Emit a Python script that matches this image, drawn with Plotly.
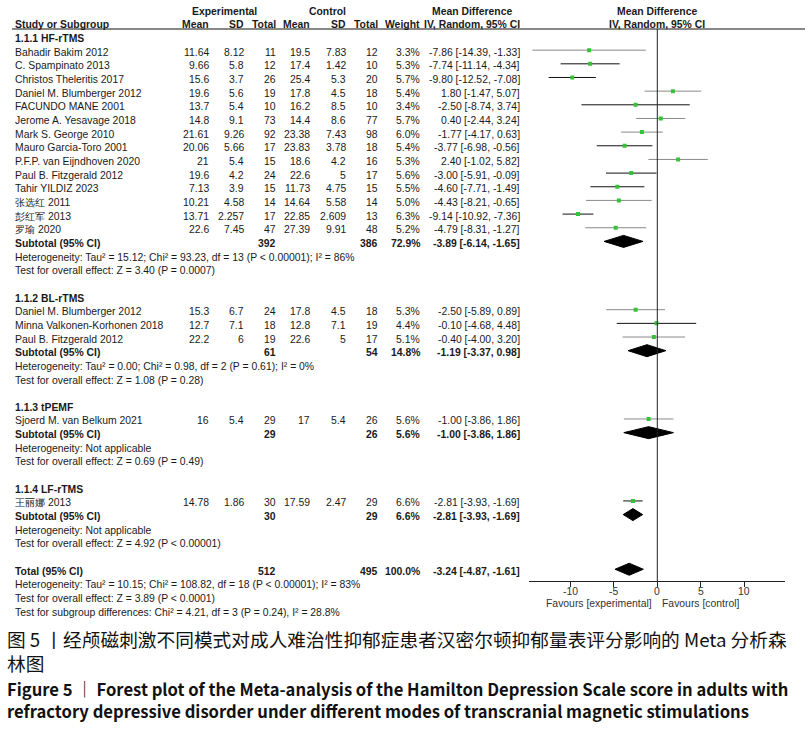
import plotly.graph_objects as go

# ------------------------------------------------------------------ data
group_titles = ["1.1.1 HF-rTMS", "1.1.2 BL-rTMS", "1.1.3 tPEMF", "1.1.4 LF-rTMS"]

study_names = [
    "Bahadir Bakim 2012", "C. Spampinato 2013", "Christos Theleritis 2017",
    "Daniel M. Blumberger 2012", "FACUNDO MANE 2001", "Jerome A. Yesavage 2018",
    "Mark S. George 2010", "Mauro Garcia-Toro 2001", "P.F.P. van Eijndhoven 2020",
    "Paul B. Fitzgerald 2012", "Tahir YILDIZ 2023", "张选红 2011", "彭红军 2013",
    "罗瑜 2020",
    "Daniel M. Blumberger 2012", "Minna Valkonen-Korhonen 2018", "Paul B. Fitzgerald 2012",
    "Sjoerd M. van Belkum 2021",
    "王丽娜 2013",
]
study_group = [0] * 14 + [1] * 3 + [2] + [3]
exp_mean = [11.64, 9.66, 15.6, 19.6, 13.7, 14.8, 21.61, 20.06, 21, 19.6, 7.13, 10.21, 13.71, 22.6,
            15.3, 12.7, 22.2, 16, 14.78]
exp_sd = [8.12, 5.8, 3.7, 5.6, 5.4, 9.1, 9.26, 5.66, 5.4, 4.2, 3.9, 4.58, 2.257, 7.45,
          6.7, 7.1, 6, 5.4, 1.86]
exp_n = [11, 12, 26, 19, 10, 73, 92, 17, 15, 24, 15, 14, 17, 47, 24, 18, 19, 29, 30]
ctl_mean = [19.5, 17.4, 25.4, 17.8, 16.2, 14.4, 23.38, 23.83, 18.6, 22.6, 11.73, 14.64, 22.85, 27.39,
            17.8, 12.8, 22.6, 17, 17.59]
ctl_sd = [7.83, 1.42, 5.3, 4.5, 8.5, 8.6, 7.43, 3.78, 4.2, 5, 4.75, 5.58, 2.609, 9.91,
          4.5, 7.1, 5, 5.4, 2.47]
ctl_n = [12, 10, 20, 18, 10, 77, 98, 18, 16, 17, 15, 14, 13, 48, 18, 19, 17, 26, 29]
weight = [3.3, 5.3, 5.7, 5.4, 3.4, 5.7, 6.0, 5.4, 5.3, 5.6, 5.5, 5.0, 6.3, 5.2, 5.3, 4.4, 5.1, 5.6, 6.6]
md = [-7.86, -7.74, -9.80, 1.80, -2.50, 0.40, -1.77, -3.77, 2.40, -3.00, -4.60, -4.43, -9.14, -4.79,
      -2.50, -0.10, -0.40, -1.00, -2.81]
md_lo = [-14.39, -11.14, -12.52, -1.47, -8.74, -2.44, -4.17, -6.98, -1.02, -5.91, -7.71, -8.21, -10.92,
         -8.31, -5.89, -4.68, -4.00, -3.86, -3.93]
md_hi = [-1.33, -4.34, -7.08, 5.07, 3.74, 3.24, 0.63, -0.56, 5.82, -0.09, -1.49, -0.65, -7.36, -1.27,
         0.89, 4.48, 3.20, 1.86, -1.69]

sub_exp_n = [392, 61, 29, 30]
sub_ctl_n = [386, 54, 26, 29]
sub_weight = [72.9, 14.8, 5.6, 6.6]
sub_md = [-3.89, -1.19, -1.00, -2.81]
sub_lo = [-6.14, -3.37, -3.86, -3.93]
sub_hi = [-1.65, 0.98, 1.86, -1.69]
sub_heterogeneity = [
    "Heterogeneity: Tau² = 15.12; Chi² = 93.23, df = 13 (P &lt; 0.00001); I² = 86%",
    "Heterogeneity: Tau² = 0.00; Chi² = 0.98, df = 2 (P = 0.61); I² = 0%",
    "Heterogeneity: Not applicable",
    "Heterogeneity: Not applicable",
]
sub_overall = [
    "Test for overall effect: Z = 3.40 (P = 0.0007)",
    "Test for overall effect: Z = 1.08 (P = 0.28)",
    "Test for overall effect: Z = 0.69 (P = 0.49)",
    "Test for overall effect: Z = 4.92 (P &lt; 0.00001)",
]

total_exp_n = 512
total_ctl_n = 495
total_weight = 100.0
total_md = -3.24
total_lo = -4.87
total_hi = -1.61
total_notes = [
    "Heterogeneity: Tau² = 10.15; Chi² = 108.82, df = 18 (P &lt; 0.00001); I² = 83%",
    "Test for overall effect: Z = 3.89 (P &lt; 0.0001)",
    "Test for subgroup differences: Chi² = 4.21, df = 3 (P = 0.24), I² = 28.8%",
]

tick_values = [-10, -5, 0, 5, 10]
tick_labels = ["-10", "-5", "0", "5", "10"]
axis_range = [-14.75, 14.75]
favours_left = "Favours [experimental]"
favours_right = "Favours [control]"

caption_cn = ("图 5 丨经颅磁刺激不同模式对成人难治性抑郁症患者汉密尔顿抑郁量表评分影响的 Meta 分析森<br>林图")
caption_en = ("<b>Figure 5 ｜ Forest plot of the Meta-analysis of the Hamilton Depression Scale score in adults with"
              "<br>refractory depressive disorder under different modes of transcranial magnetic stimulations</b>")

# style only (anti-aliased look of the CI lines in the reference)
ci_gray = [True, False, False, True, False, True, True, False, True, False, False, True, False, True,
           True, False, True, True, False]

# ------------------------------------------------------------------ layout helpers
W, H = 805, 734
ROW0_PX, ROW_H = 36.5, 13.66
Y_TOP = -ROW0_PX / ROW_H
Y_BOT = (H - ROW0_PX) / ROW_H
TEXT_SHIFT = -2.0
FONT = "Liberation Sans, Arial, sans-serif"
TXT_COLOR = "#1a1a1a"
FS = 10.4

annotations = []


def txt(x_px, row, s, anchor="right", bold=False, color=TXT_COLOR, size=FS):
    annotations.append(dict(
        x=x_px / W, xref="paper", y=row, yref="y",
        text=f"<b>{s}</b>" if bold else s,
        xanchor=anchor, yanchor="middle", showarrow=False, yshift=TEXT_SHIFT,
        borderpad=0, borderwidth=0,
        font=dict(family=FONT, size=size, color=color),
    ))


COLS = [209, 243.5, 275.5, 310, 346, 378, 420, 520]
NAME_X = 15

# header
txt(225, -2, "Experimental", anchor="center", bold=True)
txt(327, -2, "Control", anchor="center", bold=True)
txt(472, -2, "Mean Difference", anchor="center", bold=True)
txt(657, -2, "Mean Difference", anchor="center", bold=True)
txt(NAME_X, -1, "Study or Subgroup", anchor="left", bold=True)
for x, h in zip(COLS, ["Mean", "SD", "Total", "Mean", "SD", "Total", "Weight", "IV, Random, 95% CI"]):
    txt(x, -1, h, bold=True)
txt(657, -1, "IV, Random, 95% CI", anchor="center", bold=True)


def ci_str(m, l, h):
    return f"{m:.2f} [{l:.2f}, {h:.2f}]"


# rows
study_rows = []
sub_rows = []
row = 0
for g, title in enumerate(group_titles):
    txt(NAME_X, row, title, anchor="left", bold=True)
    row += 1
    for i, name in enumerate(study_names):
        if study_group[i] != g:
            continue
        study_rows.append(row)
        vals = [str(exp_mean[i]), str(exp_sd[i]), str(exp_n[i]), str(ctl_mean[i]), str(ctl_sd[i]),
                str(ctl_n[i]), f"{weight[i]:.1f}%", ci_str(md[i], md_lo[i], md_hi[i])]
        txt(NAME_X, row, name, anchor="left")
        for x, v in zip(COLS, vals):
            txt(x, row, v)
        row += 1
    sub_rows.append(row)
    txt(NAME_X, row, "Subtotal (95% CI)", anchor="left", bold=True)
    txt(COLS[2], row, str(sub_exp_n[g]), bold=True)
    txt(COLS[5], row, str(sub_ctl_n[g]), bold=True)
    txt(COLS[6], row, f"{sub_weight[g]:.1f}%", bold=True)
    txt(COLS[7], row, ci_str(sub_md[g], sub_lo[g], sub_hi[g]), bold=True)
    row += 1
    txt(NAME_X, row, sub_heterogeneity[g], anchor="left")
    row += 1
    txt(NAME_X, row, sub_overall[g], anchor="left")
    row += 2

total_row = row
txt(NAME_X, row, "Total (95% CI)", anchor="left", bold=True)
txt(COLS[2], row, str(total_exp_n), bold=True)
txt(COLS[5], row, str(total_ctl_n), bold=True)
txt(COLS[6], row, f"{total_weight:.1f}%", bold=True)
txt(COLS[7], row, ci_str(total_md, total_lo, total_hi), bold=True)
for k, note in enumerate(total_notes):
    txt(NAME_X, row + 1 + k, note, anchor="left")

# ------------------------------------------------------------------ traces
fig = go.Figure()

for gray_flag, color in [(True, "#8a8a8a"), (False, "#111111")]:
    xs, ys = [], []
    for i, r in enumerate(study_rows):
        if ci_gray[i] == gray_flag:
            xs += [md_lo[i], md_hi[i], None]
            ys += [r, r, None]
    fig.add_trace(go.Scatter(x=xs, y=ys, mode="lines", line=dict(color=color, width=1),
                             hoverinfo="skip", showlegend=False))

fig.add_trace(go.Scatter(x=md, y=study_rows, mode="markers",
                         marker=dict(symbol="square", size=4, color="#36c236", line=dict(width=0)),
                         showlegend=False))

HALF = 0.44
dx, dy = [], []
for m, l, h, r in list(zip(sub_md, sub_lo, sub_hi, sub_rows)) + [(total_md, total_lo, total_hi, total_row)]:
    dx += [l, m, h, m, l, None]
    dy += [r, r - HALF, r, r + HALF, r, None]
fig.add_trace(go.Scatter(x=dx, y=dy, mode="lines", fill="toself", fillcolor="#000000",
                         line=dict(color="#000000", width=1), hoverinfo="skip", showlegend=False))

# ------------------------------------------------------------------ layout
AXIS_Y_PX = 581
x0_px, x1_px = 529.3, 785.3

shapes = [
    dict(type="line", xref="paper", yref="paper", x0=12 / W, x1=1, y0=1 - 29 / H, y1=1 - 29 / H,
         line=dict(color="#111111", width=1)),
    dict(type="line", xref="x", yref="paper", x0=0, x1=0, y0=1 - 29 / H, y1=1 - AXIS_Y_PX / H,
         line=dict(color="#222222", width=1)),
]

for t, lab in zip(tick_values, tick_labels):
    annotations.append(dict(x=t, xref="x", y=1 - 591.5 / H, yref="paper", text=lab,
                            xanchor="center", yanchor="middle", showarrow=False,
                            borderpad=0, borderwidth=0,
                            font=dict(family=FONT, size=FS, color="#333333")))

annotations.append(dict(x=652 / W, xref="paper", y=1 - 603.5 / H, yref="paper", text=favours_left,
                        xanchor="right", yanchor="middle", showarrow=False, borderpad=0, borderwidth=0,
                        font=dict(family=FONT, size=FS, color="#333333")))
annotations.append(dict(x=662 / W, xref="paper", y=1 - 603.5 / H, yref="paper", text=favours_right,
                        xanchor="left", yanchor="middle", showarrow=False, borderpad=0, borderwidth=0,
                        font=dict(family=FONT, size=FS, color="#333333")))

CAP_FONT = "Noto Sans CJK SC, sans-serif"
annotations.append(dict(x=7 / W, xref="paper", y=1 - 625 / H, yref="paper", text=caption_cn,
                        xanchor="left", yanchor="top", align="left", showarrow=False,
                        borderpad=0, borderwidth=0,
                        font=dict(family=CAP_FONT, size=18.7, color="#111111")))
annotations.append(dict(x=7 / W, xref="paper", y=1 - 677 / H, yref="paper", text=caption_en,
                        xanchor="left", yanchor="top", align="left", showarrow=False,
                        borderpad=0, borderwidth=0,
                        font=dict(family=CAP_FONT, size=16.6, color="#111111")))

fig.update_layout(
    width=W, height=H,
    margin=dict(l=0, r=0, t=0, b=0),
    paper_bgcolor="white", plot_bgcolor="rgba(0,0,0,0)",
    showlegend=False,
    xaxis=dict(domain=[x0_px / W, x1_px / W], range=axis_range, anchor="free",
               position=1 - AXIS_Y_PX / H, side="bottom",
               showline=True, linecolor="#222222", linewidth=1,
               ticks="outside", ticklen=5, tickcolor="#222222", tickwidth=1,
               tickvals=tick_values, showticklabels=False,
               showgrid=False, zeroline=False, fixedrange=True),
    yaxis=dict(domain=[0, 1], range=[Y_BOT, Y_TOP], visible=False, showgrid=False,
               zeroline=False, fixedrange=True),
    shapes=shapes,
    annotations=annotations,
)

fig.write_html("out.html", config={"displayModeBar": False},
               post_script="document.body.style.margin='0px';")
